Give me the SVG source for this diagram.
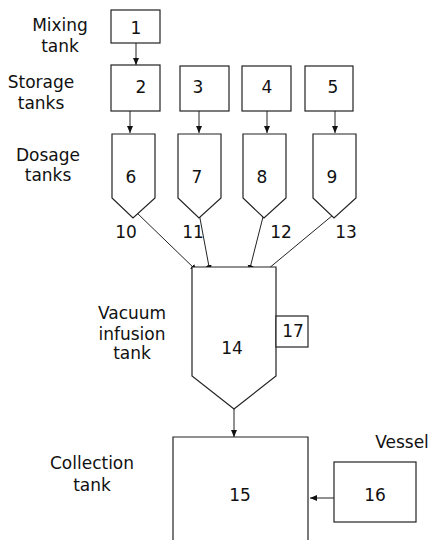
<svg xmlns="http://www.w3.org/2000/svg" width="429" height="540" viewBox="0 0 429 540">
<style>
.s{fill:#fff;stroke:#222;stroke-width:1.2}
.c{fill:none;stroke:#222;stroke-width:1}
text{font-family:"DejaVu Sans",Verdana,sans-serif;font-size:17px;fill:#111;text-anchor:middle}
</style>
<defs>
<marker id="a" markerWidth="8" markerHeight="8" refX="7" refY="4" orient="auto" markerUnits="userSpaceOnUse">
<path d="M0,1 L7,4 L0,7 Z" fill="#111"/>
</marker>
</defs>
<rect width="429" height="540" fill="#fff"/>
<g id="labels">
<text x="60" y="31">Mixing</text>
<text x="60" y="52">tank</text>
<text x="41" y="88">Storage</text>
<text x="41" y="109">tanks</text>
<text x="48" y="161">Dosage</text>
<text x="48" y="181">tanks</text>
<text x="132" y="319">Vacuum</text>
<text x="132" y="340">infusion</text>
<text x="132" y="359">tank</text>
<text x="92" y="469">Collection</text>
<text x="92" y="491">tank</text>
<text x="402" y="448">Vessel</text>
</g>
<g id="connectors">
<line class="c" x1="136" y1="43" x2="136" y2="65" marker-end="url(#a)"/>
<line class="c" x1="130" y1="111" x2="130" y2="133" marker-end="url(#a)"/>
<line class="c" x1="199" y1="111" x2="199" y2="133" marker-end="url(#a)"/>
<line class="c" x1="267" y1="111" x2="267" y2="133" marker-end="url(#a)"/>
<line class="c" x1="335" y1="111" x2="335" y2="133" marker-end="url(#a)"/>
<line class="c" x1="136" y1="212" x2="197" y2="271" marker-end="url(#a)"/>
<line class="c" x1="199" y1="213" x2="210" y2="272" marker-end="url(#a)"/>
<line class="c" x1="264" y1="213" x2="249" y2="272" marker-end="url(#a)"/>
<line class="c" x1="333" y1="215" x2="262" y2="274" marker-end="url(#a)"/>
<line class="c" x1="234" y1="409" x2="234" y2="437" marker-end="url(#a)"/>
<line class="c" x1="334" y1="498" x2="310" y2="498" marker-end="url(#a)"/>
</g>
<g id="n1"><rect class="s" x="111" y="10" width="49" height="33"/><text x="136" y="34">1</text></g>
<g id="n2"><rect class="s" x="111" y="65" width="49" height="46"/><text x="141" y="93">2</text></g>
<g id="n3"><rect class="s" x="180" y="66" width="49" height="45"/><text x="198" y="93">3</text></g>
<g id="n4"><rect class="s" x="242" y="66" width="49" height="45"/><text x="267" y="93">4</text></g>
<g id="n5"><rect class="s" x="305" y="66" width="48" height="45"/><text x="333" y="93">5</text></g>
<g id="n6"><path class="s" d="M112,134 H155 V198 L133,218 L112,198 Z"/><text x="131" y="183">6</text></g>
<g id="n7"><path class="s" d="M178,134 H221 V198 L199,218 L178,198 Z"/><text x="197" y="183">7</text></g>
<g id="n8"><path class="s" d="M243,134 H286 V198 L264,218 L243,198 Z"/><text x="262" y="183">8</text></g>
<g id="n9"><path class="s" d="M313,134 H356 V198 L334,218 L313,198 Z"/><text x="332" y="183">9</text></g>
<g id="n10"><text x="126" y="238">10</text></g>
<g id="n11"><text x="193" y="238">11</text></g>
<g id="n12"><text x="281" y="238">12</text></g>
<g id="n13"><text x="346" y="238">13</text></g>
<g id="n14"><path class="s" d="M192,267 H276 V376 L234,409 L192,376 Z"/><text x="232" y="354">14</text></g>
<g id="n17"><rect class="s" x="276" y="316" width="32" height="31"/><text x="293" y="337">17</text></g>
<g id="n15"><path class="s" d="M173,540 V437 H308 V540"/><text x="240" y="501">15</text></g>
<g id="n16"><rect class="s" x="334" y="462" width="82" height="60"/><text x="375" y="501">16</text></g>
</svg>
